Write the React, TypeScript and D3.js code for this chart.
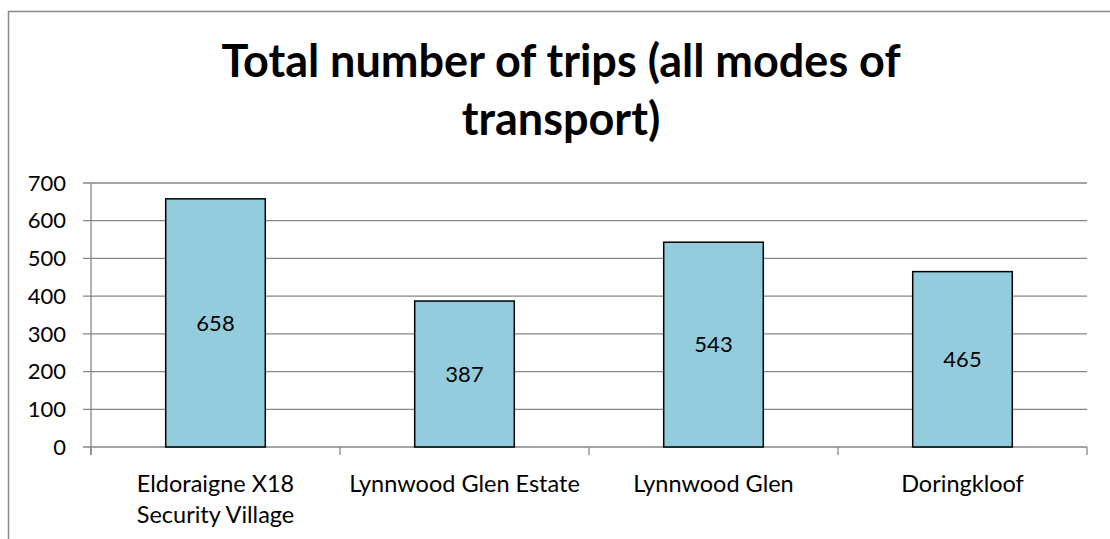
import React from "react";
import * as d3 from "d3";

const categories: string[][] = [
  ["Eldoraigne X18", "Security Village"],
  ["Lynnwood Glen Estate"],
  ["Lynnwood Glen"],
  ["Doringkloof"],
];
const values: number[] = [658, 387, 543, 465];
const yTicks: number[] = [0, 100, 200, 300, 400, 500, 600, 700];
const titleLines: string[] = ["Total number of trips (all modes of", "transport)"];

const W = 1110;
const H = 539;
const FONT = "Lato, 'Open Sans', sans-serif";

export default function App() {
  const left = 91;
  const right = 1087;
  const top = 183;
  const bottom = 447;

  const x = d3
    .scaleBand<number>()
    .domain(values.map((_, i) => i))
    .range([left, right])
    .paddingInner(0.6)
    .paddingOuter(0.3);
  const y = d3.scaleLinear().domain([0, 700]).range([bottom, top]);
  const step = (right - left) / values.length;
  const grid = "#868686";

  return (
    <svg
      width={W}
      height={H}
      style={{ position: "absolute", left: 0, top: 0, background: "#fff" }}
      fontFamily={FONT}
    >
      <rect x={8.5} y={11.5} width={1200} height={600} fill="#fff" stroke="#888" strokeWidth={1.5} />
      {titleLines.map((t, i) => (
        <text
          key={i}
          x={561}
          y={77 + i * 58}
          textAnchor="middle"
          fontSize={45}
          fontWeight={700}
          fill="#000"
        >
          {t}
        </text>
      ))}
      {yTicks.map((t) => (
        <g key={t}>
          <line x1={83} x2={right} y1={y(t)} y2={y(t)} stroke={grid} strokeWidth={1.3} />
          <text x={66} y={y(t)} dy="0.35em" textAnchor="end" fontSize={22} fill="#000">
            {t}
          </text>
        </g>
      ))}
      <line x1={left} x2={left} y1={top} y2={bottom + 8} stroke={grid} strokeWidth={1.3} />
      {d3.range(values.length + 1).map((i) => (
        <line
          key={i}
          x1={left + i * step}
          x2={left + i * step}
          y1={bottom}
          y2={bottom + 8}
          stroke={grid}
          strokeWidth={1.3}
        />
      ))}
      {values.map((v, i) => (
        <g key={i}>
          <rect
            x={x(i)!}
            y={y(v)}
            width={x.bandwidth()}
            height={bottom - y(v)}
            fill="#93CDDD"
            stroke="#000"
            strokeWidth={1.5}
          />
          <text
            x={x(i)! + x.bandwidth() / 2}
            y={(y(v) + bottom) / 2}
            dy="0.35em"
            textAnchor="middle"
            fontSize={22}
            fill="#000"
          >
            {v}
          </text>
        </g>
      ))}
      {categories.map((lines, i) =>
        lines.map((l, j) => (
          <text
            key={i + "-" + j}
            x={left + step * (i + 0.5)}
            y={492 + j * 31}
            textAnchor="middle"
            fontSize={23.5}
            fill="#000"
          >
            {l}
          </text>
        ))
      )}
    </svg>
  );
}
